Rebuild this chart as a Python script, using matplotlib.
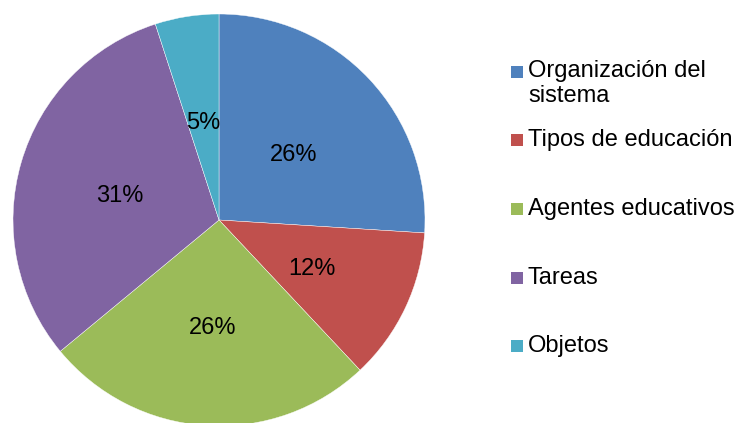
import matplotlib
matplotlib.use("Agg")
import matplotlib.pyplot as plt
from matplotlib.patches import Rectangle

categories = ["Organización del\nsistema", "Tipos de educación", "Agentes educativos", "Tareas", "Objetos"]
values = [26, 12, 26, 31, 5]
colors = ["#4F81BD", "#C0504D", "#9BBB59", "#8064A2", "#4BACC6"]

plt.rcParams['font.family'] = ['Liberation Sans', 'DejaVu Sans']

W, H = 737, 423
fig = plt.figure(figsize=(W / 100, H / 100), dpi=100)

cx, cy, r = 219, 220, 206
ax = fig.add_axes([(cx - r) / W, (H - cy - r) / H, 2 * r / W, 2 * r / H])
wedges, texts, autotexts = ax.pie(
    values, colors=colors, startangle=90, counterclock=False,
    autopct=lambda p: f"{p:.0f}%", pctdistance=0.5,
    wedgeprops=dict(linewidth=0.3, edgecolor="white"),
    textprops=dict(fontsize=17, color="black"))
for t in autotexts:
    x, y = t.get_position()
    t.set_position((x, y - 0.025))
ax.set_xlim(-1, 1)
ax.set_ylim(-1, 1)
ax.set_aspect("equal")
ax.axis("off")

# legend drawn manually to mimic layout
leg_y = [72, 140, 209, 278, 346]
msize = 12
for lab, col, y in zip(categories, colors, leg_y):
    fig.patches.append(Rectangle((511 / W, (H - y - msize / 2) / H), msize / W, msize / H,
                                 transform=fig.transFigure, facecolor=col, edgecolor="none"))
    if "\n" in lab:
        fig.text(528 / W, (H - y + 12) / H, lab, fontsize=17, va="top", ha="left", linespacing=1.2)
    else:
        fig.text(528 / W, (H - y) / H, lab, fontsize=17, va="center", ha="left")

fig.savefig("out.png", dpi=100)
